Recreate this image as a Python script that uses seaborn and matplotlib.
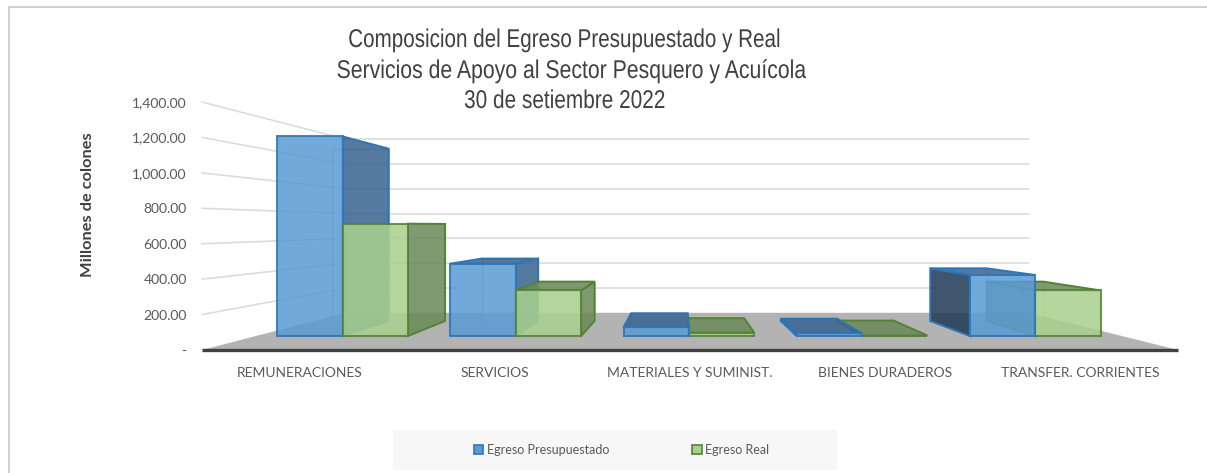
import pandas as pd
import numpy as np
import matplotlib
matplotlib.use("Agg")
import matplotlib.pyplot as plt
import seaborn as sns
from matplotlib.colors import to_rgba
from matplotlib.lines import Line2D
from matplotlib.patches import Polygon, Rectangle, Patch
from matplotlib.patheffects import AbstractPathEffect
from matplotlib.transforms import Affine2D

# Datos (millones de colones)
categorias = ["REMUNERACIONES", "SERVICIOS", "MATERIALES Y SUMINIST.", "BIENES DURADEROS", "TRANSFER. CORRIENTES"]
presupuestado = [1270, 460, 57, 17, 388]
real = [715, 290, 21, 3, 290]
series = ["Egreso Presupuestado", "Egreso Real"]
titulo = ["Composicion del Egreso Presupuestado y Real",
          "Servicios de Apoyo al Sector Pesquero y Acuícola",
          "30 de setiembre 2022"]

df = pd.DataFrame({
    "categoria": categorias * 2,
    "serie": [series[0]] * 5 + [series[1]] * 5,
    "valor": presupuestado + real,
})

W, H = 1207, 473

# perspectiva: punto de fuga (datos) y escala por profundidad
VX, VY = 1.949, 700
S_WALL, S_FRONT, S_BACK = 0.70, 0.887, 0.766

colores = ["#5B9BD5", "#A9D18E"]
bordes = ["#2E75B6", "#548235"]
lado = ["#396490", "#6A8A59"]
lado_izq = ["#203A56", "#6A8A59"]
ALPHA = 0.86


def px(x, y, s):
    return (VX + s * (x - VX), VY + s * (y - VY))


# el titulo original es mas angosto que Liberation Sans
class Angosto(AbstractPathEffect):
    def __init__(self, factor, centro):
        super().__init__()
        self.factor = factor
        self.centro = centro

    def draw_path(self, renderer, gc, tpath, affine, rgbFace=None):
        t = Affine2D().translate(-self.centro, 0).scale(self.factor, 1).translate(self.centro, 0)
        renderer.draw_path(gc, tpath, affine + t, rgbFace)


sns.set_theme(style="white")
plt.rcParams["font.family"] = ["Lato", "DejaVu Sans"]

fig = plt.figure(figsize=(W / 100, H / 100), dpi=100)
ax = fig.add_axes([202 / W, 1 - 350 / H, 976 / W, 248 / H])
ax.patch.set_alpha(0)

sns.barplot(data=df, x="categoria", y="valor", hue="serie", hue_order=series,
            palette=colores, width=0.755, ax=ax, legend=False, saturation=1)
ax.set_xlim(-0.5, 4.5)
ax.set_ylim(0, 1400)

# marco (solo arriba e izquierda)
fig.add_artist(Line2D([8.5 / W, 8.5 / W, 1], [0, 1 - 7.5 / H, 1 - 7.5 / H], transform=fig.transFigure,
                      color="#c8c8c8", lw=1.2))

ticks = np.arange(0, 1401, 200)
GRID = "#dcdcdc"
for t in ticks[1:]:
    x0, y0 = px(-0.5, t, S_WALL)
    x1, y1 = px(4.5, t, S_WALL)
    ax.plot([-0.5, x0], [t, y0], color=GRID, lw=1.2, zorder=1, clip_on=False)
    ax.plot([x0, x1], [y0, y1], color=GRID, lw=1.2, zorder=1, clip_on=False)

# piso
piso = [(-0.5, 0), (4.5, 0), px(4.5, 0, S_WALL), px(-0.5, 0, S_WALL)]
ax.add_patch(Polygon(piso, closed=True, facecolor="#b3b3b3", edgecolor="none", zorder=2, clip_on=False))
ax.plot([-0.5, 4.5], [0, 0], color="#404040", lw=2.4, zorder=100, clip_on=False, solid_capstyle="butt")

# caras de las barras
frente = Affine2D().translate(-VX, -VY).scale(S_FRONT).translate(VX, VY) + ax.transData
barras = [list(ax.patches[:5]), list(ax.patches[5:10])]
for c in range(5):
    orden = [0, 1] if c < VX else [1, 0]
    for n, k in enumerate(orden):
        b = barras[k][c]
        x0, x1 = b.get_x(), b.get_x() + b.get_width()
        v = b.get_height()
        z = 10 + c * 10 + n * 4

        def cara(puntos, fc, alpha=ALPHA, ec=None, lw=1.4):
            ax.add_patch(Polygon(puntos, closed=True, facecolor=to_rgba(fc, alpha),
                                 edgecolor=ec or bordes[k], lw=lw, zorder=z, clip_on=False))

        # cara trasera, solo una linea tenue
        cara([px(x0, 0, S_BACK), px(x1, 0, S_BACK), px(x1, v, S_BACK), px(x0, v, S_BACK)], "#ffffff", 0.10,
             ec=to_rgba(colores[k], 0.6), lw=0.8)
        if x1 < VX:
            cara([px(x1, 0, S_FRONT), px(x1, v, S_FRONT), px(x1, v, S_BACK), px(x1, 0, S_BACK)], lado[k])
        elif x0 > VX:
            cara([px(x0, 0, S_FRONT), px(x0, v, S_FRONT), px(x0, v, S_BACK), px(x0, 0, S_BACK)], lado_izq[k])
        if v < VY:
            cara([px(x0, v, S_FRONT), px(x1, v, S_FRONT), px(x1, v, S_BACK), px(x0, v, S_BACK)], lado[k])
        b.set_transform(frente)
        b.set_zorder(z + 1)
        b.set_alpha(ALPHA)
        b.set_edgecolor(bordes[k])
        b.set_linewidth(1.5)
        b.set_clip_on(False)

# ejes y textos
TXT = "#595959"
ax.set_yticks(ticks)
ax.set_yticklabels(["-"] + [f"{t:,.2f}" for t in ticks[1:]], fontsize=10, color=TXT)
ax.set_xticks(range(5))
ax.set_xticklabels(categorias, fontsize=10, color=TXT)
ax.tick_params(axis="y", length=0, pad=11)
ax.tick_params(axis="x", length=0, pad=12)
ax.set_xlabel("")
ax.set_ylabel("")
sns.despine(ax=ax, left=True, bottom=True, top=True, right=True)

fig.text(88 / W, 1 - 205 / H, "Millones de colones", rotation=90, ha="center", va="center",
         fontsize=11.8, fontweight="bold", color="#404040")

# cada linea del titulo va aparte porque no estan centradas igual
for linea, cx, base, f in zip(titulo, [565, 572, 565], [47, 78, 108], [0.803, 0.826, 0.81]):
    fig.text(cx / W, 1 - base / H, linea, ha="center", va="baseline", fontsize=18.5, color="#404040",
             family="Liberation Sans", path_effects=[Angosto(f, cx)])

# leyenda
fig.add_artist(Rectangle((393 / W, 1 - 470 / H), 444 / W, 40 / H, transform=fig.transFigure,
                         facecolor="#f7f7f7", edgecolor="none"))
handles = [Patch(facecolor=colores[i], edgecolor=bordes[i], lw=1.2, label=series[i]) for i in range(2)]
leg = fig.legend(handles=handles, loc="center", bbox_to_anchor=(621.5 / W, 1 - 450 / H), ncol=2, frameon=False,
                 fontsize=9, handlelength=0.75, handleheight=0.75, handletextpad=0.3, columnspacing=6.65)
for t in leg.get_texts():
    t.set_color(TXT)

fig.savefig("out.png", dpi=100)
